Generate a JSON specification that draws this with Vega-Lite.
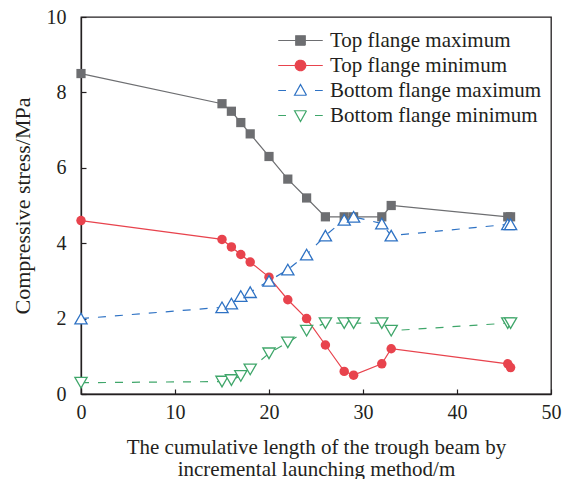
{
  "$schema": "https://vega.github.io/schema/vega-lite/v6.json",
  "width": 470,
  "height": 377,
  "autosize": "none",
  "padding": {"left": 81, "top": 17, "right": 20, "bottom": 85},
  "background": "white",
  "config": {
    "font": "Liberation Serif",
    "view": {"stroke": "#231f20", "strokeWidth": 1.3},
    "axis": {
      "domainColor": "#231f20",
      "domainWidth": 1.3,
      "tickColor": "#231f20",
      "tickWidth": 1.2,
      "tickSize": -5,
      "grid": false,
      "labelFlush": false,
      "labelFont": "Liberation Serif",
      "labelFontSize": 20,
      "labelColor": "#231f20",
      "titleFont": "Liberation Serif",
      "titleFontSize": 21,
      "titleFontWeight": "normal",
      "titleColor": "#231f20"
    }
  },
  "data": {
    "values": [
      {"x": 0, "y": 8.5, "series": "Top flange maximum"},
      {"x": 15, "y": 7.7, "series": "Top flange maximum"},
      {"x": 16, "y": 7.5, "series": "Top flange maximum"},
      {"x": 17, "y": 7.2, "series": "Top flange maximum"},
      {"x": 18, "y": 6.9, "series": "Top flange maximum"},
      {"x": 20, "y": 6.3, "series": "Top flange maximum"},
      {"x": 22, "y": 5.7, "series": "Top flange maximum"},
      {"x": 24, "y": 5.2, "series": "Top flange maximum"},
      {"x": 26, "y": 4.7, "series": "Top flange maximum"},
      {"x": 28, "y": 4.7, "series": "Top flange maximum"},
      {"x": 29, "y": 4.7, "series": "Top flange maximum"},
      {"x": 32, "y": 4.7, "series": "Top flange maximum"},
      {"x": 33, "y": 5.0, "series": "Top flange maximum"},
      {"x": 45.4, "y": 4.7, "series": "Top flange maximum"},
      {"x": 45.7, "y": 4.7, "series": "Top flange maximum"},
      {"x": 0, "y": 4.6, "series": "Top flange minimum"},
      {"x": 15, "y": 4.1, "series": "Top flange minimum"},
      {"x": 16, "y": 3.9, "series": "Top flange minimum"},
      {"x": 17, "y": 3.7, "series": "Top flange minimum"},
      {"x": 18, "y": 3.5, "series": "Top flange minimum"},
      {"x": 20, "y": 3.1, "series": "Top flange minimum"},
      {"x": 22, "y": 2.5, "series": "Top flange minimum"},
      {"x": 24, "y": 2.0, "series": "Top flange minimum"},
      {"x": 26, "y": 1.3, "series": "Top flange minimum"},
      {"x": 28, "y": 0.6, "series": "Top flange minimum"},
      {"x": 29, "y": 0.5, "series": "Top flange minimum"},
      {"x": 32, "y": 0.8, "series": "Top flange minimum"},
      {"x": 33, "y": 1.2, "series": "Top flange minimum"},
      {"x": 45.4, "y": 0.8, "series": "Top flange minimum"},
      {"x": 45.7, "y": 0.7, "series": "Top flange minimum"},
      {"x": 0, "y": 2.0, "series": "Bottom flange maximum"},
      {"x": 15, "y": 2.3, "series": "Bottom flange maximum"},
      {"x": 16, "y": 2.4, "series": "Bottom flange maximum"},
      {"x": 17, "y": 2.6, "series": "Bottom flange maximum"},
      {"x": 18, "y": 2.7, "series": "Bottom flange maximum"},
      {"x": 20, "y": 3.0, "series": "Bottom flange maximum"},
      {"x": 22, "y": 3.3, "series": "Bottom flange maximum"},
      {"x": 24, "y": 3.7, "series": "Bottom flange maximum"},
      {"x": 26, "y": 4.2, "series": "Bottom flange maximum"},
      {"x": 28, "y": 4.62, "series": "Bottom flange maximum"},
      {"x": 29, "y": 4.7, "series": "Bottom flange maximum"},
      {"x": 32, "y": 4.52, "series": "Bottom flange maximum"},
      {"x": 33, "y": 4.2, "series": "Bottom flange maximum"},
      {"x": 45.4, "y": 4.5, "series": "Bottom flange maximum"},
      {"x": 45.7, "y": 4.5, "series": "Bottom flange maximum"},
      {"x": 0, "y": 0.3, "series": "Bottom flange minimum"},
      {"x": 15, "y": 0.33, "series": "Bottom flange minimum"},
      {"x": 16, "y": 0.37, "series": "Bottom flange minimum"},
      {"x": 17, "y": 0.48, "series": "Bottom flange minimum"},
      {"x": 18, "y": 0.65, "series": "Bottom flange minimum"},
      {"x": 20, "y": 1.08, "series": "Bottom flange minimum"},
      {"x": 22, "y": 1.37, "series": "Bottom flange minimum"},
      {"x": 24, "y": 1.68, "series": "Bottom flange minimum"},
      {"x": 26, "y": 1.88, "series": "Bottom flange minimum"},
      {"x": 28, "y": 1.88, "series": "Bottom flange minimum"},
      {"x": 29, "y": 1.88, "series": "Bottom flange minimum"},
      {"x": 32, "y": 1.88, "series": "Bottom flange minimum"},
      {"x": 33, "y": 1.68, "series": "Bottom flange minimum"},
      {"x": 45.4, "y": 1.88, "series": "Bottom flange minimum"},
      {"x": 45.7, "y": 1.88, "series": "Bottom flange minimum"}
    ]
  },
  "encoding": {
    "x": {
      "field": "x",
      "type": "quantitative",
      "scale": {"domain": [0, 50], "nice": false, "zero": false},
      "axis": {
        "values": [0, 10, 20, 30, 40, 50],
        "labelPadding": 13,
        "title": ["The cumulative length of the trough beam by", "incremental launching method/m"],
        "titlePadding": 14,
        "titleLineHeight": 22
      }
    },
    "y": {
      "field": "y",
      "type": "quantitative",
      "scale": {"domain": [0, 10], "nice": false},
      "axis": {
        "values": [0, 2, 4, 6, 8, 10],
        "labelPadding": 20,
        "title": "Compressive stress/MPa",
        "titleFontSize": 22,
        "titlePadding": 12
      }
    }
  },
  "layer": [
    {
      "transform": [{"filter": "datum.series === 'Top flange maximum' || datum.series === 'Top flange minimum'"}],
      "mark": {"type": "line", "strokeWidth": 1.2},
      "encoding": {
        "color": {
          "field": "series",
          "type": "nominal",
          "sort": null,
          "scale": {
            "domain": ["Top flange maximum", "Top flange minimum", "Bottom flange maximum", "Bottom flange minimum"],
            "range": ["#6d6e71", "#e8434d", "#2e72c4", "#3fa66a"]
          },
          "legend": {
            "orient": "none",
            "legendX": 209,
            "legendY": 13,
            "title": null,
            "padding": 0,
            "labelFont": "Liberation Serif",
            "labelFontSize": 21,
            "labelColor": "#231f20",
            "labelOffset": 19,
            "labelLimit": 400,
            "rowPadding": 3,
            "symbolSize": 100,
            "symbolStrokeWidth": 1.2,
            "encode": {
              "symbols": {
                "update": {
                  "shape": {"signal": "datum.value === 'Top flange maximum' ? 'M-4.45,0H-0.95M0.95,0H4.45M-0.95,-0.95H0.95V0.95H-0.95Z' : datum.value === 'Top flange minimum' ? 'M-4.45,0H-1.05M1.05,0H4.45M-1.05,0A1.05,1.05,0,1,0,1.05,0A1.05,1.05,0,1,0,-1.05,0Z' : datum.value === 'Bottom flange maximum' ? 'M-4.45,0H-2.9M2.9,0H4.45M-1.2,0.95H1.2L0,-1.2Z' : 'M-4.45,0H-2.9M2.9,0H4.45M-1.2,-0.95H1.2L0,1.2Z'"},
                  "fill": {"signal": "datum.value === 'Top flange maximum' ? '#6d6e71' : datum.value === 'Top flange minimum' ? '#e8434d' : 'white'"},
                  "strokeDash": {"value": [1, 0]}
                }
              }
            }
          }
        }
      }
    },
    {
      "transform": [{"filter": "datum.series === 'Bottom flange maximum' || datum.series === 'Bottom flange minimum'"}],
      "mark": {"type": "line", "strokeWidth": 1.2, "strokeDash": [8, 9]},
      "encoding": {
        "color": {
          "field": "series",
          "type": "nominal",
          "sort": null
        }
      }
    },
    {
      "transform": [{"filter": "datum.series === 'Top flange maximum'"}],
      "mark": {"type": "point", "shape": "square", "filled": true, "color": "#6d6e71", "size": 85, "opacity": 1}
    },
    {
      "transform": [{"filter": "datum.series === 'Top flange minimum'"}],
      "mark": {"type": "point", "shape": "circle", "filled": true, "color": "#e8434d", "size": 90, "opacity": 1}
    },
    {
      "transform": [{"filter": "datum.series === 'Bottom flange maximum'"}],
      "mark": {"type": "point", "shape": "triangle-up", "stroke": "#2e72c4", "fill": "white", "strokeWidth": 1.3, "size": 150, "opacity": 1}
    },
    {
      "transform": [{"filter": "datum.series === 'Bottom flange minimum'"}],
      "mark": {"type": "point", "shape": "triangle-down", "stroke": "#3fa66a", "fill": "white", "strokeWidth": 1.3, "size": 150, "opacity": 1}
    }
  ]
}
